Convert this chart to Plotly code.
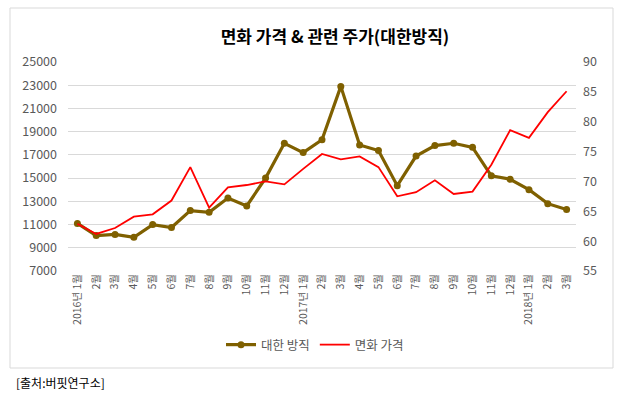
import plotly.graph_objects as go

months = ["2016년 1월", "2월", "3월", "4월", "5월", "6월", "7월", "8월", "9월", "10월", "11월", "12월",
          "2017년 1월", "2월", "3월", "4월", "5월", "6월", "7월", "8월", "9월", "10월", "11월", "12월",
          "2018년 1월", "2월", "3월"]
categories = [f"c{i}" for i in range(len(months))]

daehan = [11100, 10050, 10150, 9900, 11000, 10750, 12200, 12050, 13280, 12600, 15000, 18000,
          17200, 18300, 22900, 17850, 17380, 14350, 16900, 17800, 18000, 17650, 15200, 14900,
          14000, 12800, 12300]
cotton = [62.9, 61.2, 62.2, 64.1, 64.5, 66.8, 72.4, 65.6, 69.0, 69.4, 70.0, 69.5,
          72.1, 74.6, 73.7, 74.2, 72.4, 67.5, 68.2, 70.2, 67.9, 68.3, 72.8, 78.6,
          77.3, 81.6, 85.1]

FONT = "Noto Sans CJK KR"

fig = go.Figure()
fig.add_trace(go.Scatter(x=categories, y=daehan, name="대한 방직", mode="lines+markers",
                         line=dict(color="#7F6000", width=3.2),
                         marker=dict(color="#7F6000", size=7), yaxis="y"))
fig.add_trace(go.Scatter(x=categories, y=cotton, name="면화 가격", mode="lines",
                         line=dict(color="#FF0000", width=1.8), yaxis="y2"))

L, R, T, B = 68, 44, 62, 126
W, H = 620, 397
pw, ph = W - L - R, H - T - B

def px(x):
    return (x - L) / pw

def py(y):
    return (H - B - y) / ph

fig.update_layout(
    width=W, height=H,
    margin=dict(l=L, r=R, t=T, b=B, autoexpand=False),
    paper_bgcolor="white", plot_bgcolor="white",
    font=dict(family=FONT, color="#595959", size=12),
    title=dict(text="<b>면화 가격 & 관련 주가(대한방직)</b>", x=px(335), xanchor="center",
               xref="paper", y=1 - 37 / H, yanchor="middle",
               font=dict(family=FONT, size=17, color="#000000")),
    showlegend=True,
    legend=dict(orientation="h", x=px(315), xanchor="center", y=py(345), yanchor="middle",
                font=dict(family=FONT, size=12.5, color="#595959"),
                bgcolor="rgba(0,0,0,0)"),
    xaxis=dict(type="category", tickvals=categories, ticktext=months, tickangle=-90,
               range=[-0.5, len(categories) - 0.5], automargin=False,
               tickfont=dict(family=FONT, size=10.5, color="#595959"),
               showgrid=False, showline=False, ticks="", zeroline=False),
    yaxis=dict(range=[7000, 25000], dtick=2000, tick0=7000, showgrid=True, gridcolor="#D9D9D9",
               gridwidth=1, zeroline=False, ticks="", tickformat="d", automargin=False,
               ticklabelstandoff=10,
               tickfont=dict(size=12.5, color="#595959"), showline=False),
    yaxis2=dict(range=[55, 90], dtick=5, tick0=55, overlaying="y", side="right", showgrid=False,
                zeroline=False, ticks="", automargin=False, ticklabelstandoff=6,
                tickfont=dict(size=12.5, color="#595959"), showline=False),
    shapes=[dict(type="rect", xref="paper", yref="paper", x0=px(10), x1=px(613), y0=py(368), y1=py(8),
                 line=dict(color="#D9D9D9", width=1), fillcolor="rgba(0,0,0,0)", layer="above")],
    annotations=[dict(text="[출처:버핏연구소]", xref="paper", yref="paper", x=px(14), y=py(382),
                      xanchor="left", yanchor="middle", showarrow=False,
                      font=dict(family=FONT, size=12, color="#000000"))],
)

fig.write_html("out.html", config={"displayModeBar": False},
               post_script="document.body.style.margin='0';document.body.style.overflow='hidden';")
